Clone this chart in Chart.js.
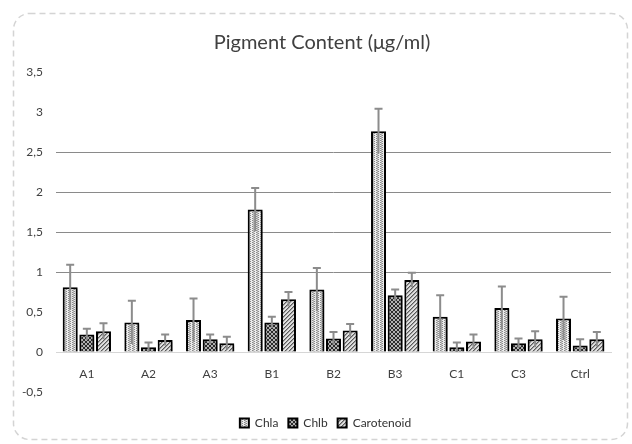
<!DOCTYPE html>
<html>
<head>
<meta charset="utf-8">
<script src="https://cdn.jsdelivr.net/npm/chart.js@4"></script>
<style>
  html, body { margin: 0; padding: 0; background: #fff; }
  canvas { display: block; }
</style>
</head>
<body>
<canvas id="pigmentChart" width="632" height="444"></canvas>
<script>
// Data
const samples = ['A1', 'A2', 'A3', 'B1', 'B2', 'B3', 'C1', 'C3', 'Ctrl'];
const seriesNames = ['Chla', 'Chlb', 'Carotenoid'];
const chla = [0.81, 0.37, 0.40, 1.78, 0.78, 2.76, 0.44, 0.55, 0.42];
const chlb = [0.22, 0.06, 0.16, 0.37, 0.17, 0.71, 0.06, 0.11, 0.08];
const carotenoid = [0.26, 0.15, 0.11, 0.66, 0.27, 0.90, 0.13, 0.16, 0.16];
const chlaErr = [0.28, 0.27, 0.27, 0.27, 0.27, 0.28, 0.27, 0.27, 0.27];
const chlbErr = [0.07, 0.06, 0.06, 0.07, 0.08, 0.07, 0.06, 0.06, 0.08];
const carotenoidErr = [0.10, 0.07, 0.08, 0.09, 0.08, 0.09, 0.09, 0.10, 0.09];
const yTicks = [-0.5, 0, 0.5, 1, 1.5, 2, 2.5, 3, 3.5];
const gridValues = [1, 1.5, 2, 2.5];

// small fill patterns like the Excel ones
function makePattern(kind) {
    const c = document.createElement('canvas');
    c.width = 4; c.height = 4;
    const p = c.getContext('2d');
    if (kind === 'dots') {
        p.fillStyle = '#ececec';
        p.fillRect(0, 0, 4, 4);
        p.fillStyle = '#8a8a8a';
        p.fillRect(0, 0, 1, 1); p.fillRect(2, 1, 1, 1);
        p.fillRect(0, 2, 1, 1); p.fillRect(2, 3, 1, 1);
        p.fillStyle = '#b5b5b5';
        p.fillRect(1, 0, 1, 4);
    } else if (kind === 'cross') {
        p.fillStyle = '#b0b0b0';
        p.fillRect(0, 0, 4, 4);
        p.fillStyle = '#2a2a2a';
        p.fillRect(0, 0, 1, 1); p.fillRect(1, 1, 1, 1); p.fillRect(2, 2, 1, 1); p.fillRect(3, 3, 1, 1);
        p.fillRect(3, 0, 1, 1); p.fillRect(2, 1, 1, 1); p.fillRect(1, 2, 1, 1); p.fillRect(0, 3, 1, 1);
    } else {
        p.fillStyle = '#e0e0e0';
        p.fillRect(0, 0, 4, 4);
        p.fillStyle = '#5a5a5a';
        p.fillRect(3, 0, 1, 1); p.fillRect(2, 1, 1, 1); p.fillRect(1, 2, 1, 1); p.fillRect(0, 3, 1, 1);
        p.fillStyle = '#a0a0a0';
        p.fillRect(0, 0, 1, 1); p.fillRect(3, 1, 1, 1); p.fillRect(2, 2, 1, 1); p.fillRect(1, 3, 1, 1);
    }
    return p.createPattern(c, 'repeat');
}

const frame = {
    id: 'frame',
    beforeDraw(chart) {
        const ctx = chart.ctx;
        ctx.save();
        ctx.fillStyle = '#fff';
        ctx.fillRect(0, 0, chart.width, chart.height);
        ctx.strokeStyle = '#d4d4d4';
        ctx.lineWidth = 1.5;
        ctx.setLineDash([6, 4]);
        ctx.beginPath();
        ctx.roundRect(13.5, 13.5, 614, 426, 16);
        ctx.stroke();
        ctx.restore();
    },
    // title and legend sit centred on the frame, not on the plot
    afterLayout(chart) {
        chart.titleBlock.left += 19;
        chart.legend.left += 26;
    }
};

const errorBars = {
    id: 'errorBars',
    beforeDatasetsDraw(chart) {
        const ctx = chart.ctx;
        ctx.save();
        ctx.shadowColor = 'rgba(0,0,0,0.35)';
        ctx.shadowOffsetX = 2;
        ctx.shadowOffsetY = 2;
        ctx.shadowBlur = 2;
    },
    afterDatasetsDraw(chart) {
        const ctx = chart.ctx;
        ctx.restore();
        const y = chart.scales.y;
        ctx.save();
        ctx.strokeStyle = '#8c8c8c';
        ctx.lineWidth = 2;
        chart.data.datasets.forEach((ds, i) => {
            const meta = chart.getDatasetMeta(i);
            meta.data.forEach((bar, j) => {
                const v = ds.data[j], e = ds.errors[j];
                const top = y.getPixelForValue(v + e);
                const bottom = y.getPixelForValue(v - e);
                ctx.beginPath();
                ctx.moveTo(bar.x, bottom);
                ctx.lineTo(bar.x, top);
                ctx.moveTo(bar.x - 4, top);
                ctx.lineTo(bar.x + 4, top);
                ctx.stroke();
            });
        });
        ctx.restore();
    }
};

const fills = [makePattern('dots'), makePattern('cross'), makePattern('diag')];
const values = [chla, chlb, carotenoid];
const errs = [chlaErr, chlbErr, carotenoidErr];

new Chart(document.getElementById('pigmentChart').getContext('2d'), {
    type: 'bar',
    data: {
        labels: samples,
        datasets: seriesNames.map((name, i) => ({
            label: name,
            data: values[i],
            errors: errs[i],
            backgroundColor: fills[i],
            borderColor: '#000',
            borderWidth: 2,
            categoryPercentage: 0.81,
            barPercentage: 0.9
        }))
    },
    options: {
        responsive: false,
        animation: false,
        layout: { padding: { left: 14, right: 21, top: 20, bottom: 5 } },
        plugins: {
            title: {
                display: true,
                text: 'Pigment Content (μg/ml)',
                color: '#404040',
                font: { family: 'Lato', size: 20, weight: 'normal' },
                padding: { top: 11, bottom: 17 }
            },
            legend: {
                position: 'bottom',
                title: { display: true, text: '', padding: 0, font: { size: 15, lineHeight: 1 } },
                labels: {
                    color: '#333',
                    font: { family: 'Lato', size: 12 },
                    boxWidth: 9,
                    boxHeight: 9,
                    padding: 10
                }
            },
            tooltip: { enabled: false }
        },
        scales: {
            x: {
                position: { y: 0 },
                grid: { display: false },
                border: { color: '#d6d6d6', width: 1 },
                ticks: {
                    color: '#404040',
                    font: { family: 'Lato', size: 12 },
                    padding: 7
                }
            },
            y: {
                min: -0.5,
                max: 3.5,
                afterBuildTicks(scale) { scale.ticks = yTicks.map(v => ({ value: v })); },
                afterFit(scale) { scale.width = 42; },
                border: { display: false },
                grid: {
                    drawTicks: false,
                    color: ctx => gridValues.includes(ctx.tick && ctx.tick.value) ? '#8a8a8a' : 'rgba(0,0,0,0)',
                    lineWidth: 1
                },
                ticks: {
                    color: '#404040',
                    font: { family: 'Lato', size: 12 },
                    padding: 13,
                    callback: v => String(v).replace('.', ',')
                }
            }
        }
    },
    plugins: [frame, errorBars]
});
</script>
</body>
</html>
